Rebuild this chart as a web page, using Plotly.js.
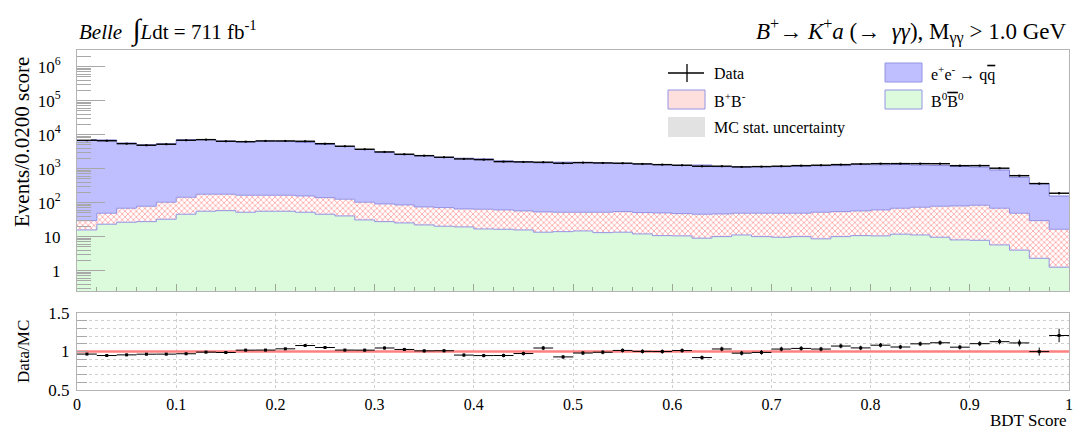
<!DOCTYPE html>
<html>
<head>
<meta charset="utf-8">
<script src="https://cdn.plot.ly/plotly-3.0.1.min.js"></script>
<style>
  html, body { margin: 0; padding: 0; background: #ffffff; }
  #plot { width: 1073px; height: 429px; }
</style>
</head>
<body>
<div id="plot"></div>
<script>
// BDT score histogram, 50 bins of width 0.02 on [0, 1]
const binWidth = 0.02;
const nBins = 50;
const binCenters = Array.from({ length: nBins }, (_, i) => +(binWidth * (i + 0.5)).toFixed(3));
const binEdges = Array.from({ length: nBins + 1 }, (_, i) => +(binWidth * i).toFixed(3));

// Observed events per bin
const dataCounts = [
  6843, 6618, 5427, 4876, 5219, 6845, 7128, 6392, 6217, 6534,
  6528, 6387, 5431, 4562, 3718, 3104, 2651, 2409, 2163, 1931,
  1838, 1607, 1573, 1545, 1441, 1502, 1469, 1444, 1376, 1311,
  1258, 1176, 1179, 1121, 1146, 1178, 1226, 1260, 1313, 1372,
  1401, 1405, 1402, 1398, 1224, 1227, 1029, 621, 363, 189
];

// Continuum e+e- -> qqbar (MC)
const qqbarMC = [
  7052, 6934, 5606, 4974, 5301, 6908, 7011, 6297, 5945, 6250,
  6144, 5771, 5022, 4353, 3551, 2877, 2497, 2314, 2070, 1960,
  1877, 1634, 1559, 1425, 1498, 1480, 1431, 1370, 1323, 1262,
  1195, 1231, 1095, 1097, 1111, 1093, 1130, 1169, 1172, 1254,
  1234, 1259, 1202, 1177, 1079, 1030, 844, 510, 334, 140
];

// Charged B+B- (MC)
const chargedBBMC = [
  13.8, 25.6, 41.9, 50.8, 70.5, 98.4, 121.2, 118.8, 112.8, 109.2,
  109.2, 104.8, 94.4, 85.4, 72.0, 64.0, 60.2, 52.6, 51.1, 46.0,
  47.2, 44.5, 41.3, 39.8, 38.2, 37.5, 39.1, 40.9, 38.8, 39.1,
  37.0, 36.6, 36.5, 37.6, 38.8, 39.2, 38.8, 43.6, 44.4, 46.3,
  50.5, 56.6, 62.0, 68.8, 72.0, 76.1, 62.7, 44.8, 27.2, 15.2
];

// Neutral B0 B0bar (MC)
const neutralBBMC = [
  15.7, 23.2, 26.5, 27.6, 32.5, 45.6, 55.8, 58.2, 52.2, 55.8,
  55.8, 52.2, 45.6, 40.6, 31.0, 27.6, 25.3, 22.1, 20.2, 19.3,
  16.8, 16.5, 15.7, 13.5, 14.0, 14.7, 13.1, 13.5, 12.0, 10.7,
  10.5, 9.0, 10.0, 11.2, 10.0, 9.6, 10.0, 8.6, 10.0, 10.7,
  10.5, 11.8, 11.2, 9.6, 8.0, 7.8, 5.7, 4.0, 2.3, 1.26
];

// MC statistical uncertainty on the total prediction
const mcStatErr = [
  105, 104, 85, 76, 81, 106, 108, 97, 92, 96,
  95, 89, 77, 67, 55, 45, 39, 36, 32, 30,
  29, 25, 24, 22, 23, 23, 22, 21, 20, 19,
  19, 19, 17, 17, 17, 17, 18, 18, 18, 20,
  19, 20, 19, 19, 17, 17, 14, 9, 6, 3
];

// Axis tick labels
const upperTickVals = [1, 10, 100, 1e3, 1e4, 1e5, 1e6];
const upperTickText = ['1', '10', '10<sup>2</sup>', '10<sup>3</sup>', '10<sup>4</sup>', '10<sup>5</sup>', '10<sup>6</sup>'];
const ratioTickVals = [0.5, 1.0, 1.5];
const ratioTickText = ['0.5', '1', '1.5'];
const xTickVals = [0, 0.1, 0.2, 0.3, 0.4, 0.5, 0.6, 0.7, 0.8, 0.9, 1];
const xTickText = ['0', '0.1', '0.2', '0.3', '0.4', '0.5', '0.6', '0.7', '0.8', '0.9', '1'];

// Derived stack levels
const neutralTop = neutralBBMC.slice();
const chargedTop = neutralBBMC.map((v, i) => v + chargedBBMC[i]);
const mcTotal = chargedTop.map((v, i) => v + qqbarMC[i]);
const ratio = dataCounts.map((d, i) => d / mcTotal[i]);
const ratioErr = dataCounts.map((d, i) => Math.sqrt(d) / mcTotal[i]);
const dataErr = dataCounts.map(d => Math.sqrt(d));
const stepY = arr => arr.concat([arr[arr.length - 1]]);

// Layout geometry helpers (pixel -> paper)
const L = 77, R = 4, T = 50, B = 39, W = 1073, H = 429;
const PW = W - L - R, PH = H - T - B;
const px = x => (x - L) / PW;
const py = y => (H - B - y) / PH;

const FONT = 'Liberation Serif, Times New Roman, serif';
const stepColor = '#9494e4';

const traces = [
  {
    type: 'bar', x: binCenters, y: neutralBBMC, width: binWidth,
    xaxis: 'x', yaxis: 'y',
    marker: { color: '#dcfbdc', line: { width: 0 } },
    hoverinfo: 'skip'
  },
  {
    type: 'bar', x: binCenters, y: chargedBBMC, base: neutralTop, width: binWidth,
    xaxis: 'x', yaxis: 'y',
    marker: {
      color: '#ffffff', line: { width: 0 },
      pattern: { shape: 'x', fgcolor: '#ff8a8a', bgcolor: '#ffffff', size: 4, solidity: 0.3 }
    },
    hoverinfo: 'skip'
  },
  {
    type: 'bar', x: binCenters, y: qqbarMC, base: chargedTop, width: binWidth,
    xaxis: 'x', yaxis: 'y',
    marker: { color: '#bfbfff', line: { width: 0 } },
    hoverinfo: 'skip'
  },
  {
    type: 'bar', x: binCenters, y: mcStatErr.map(e => 2 * e),
    base: mcTotal.map((m, i) => m - mcStatErr[i]), width: binWidth,
    xaxis: 'x', yaxis: 'y',
    marker: {
      color: 'rgba(0,0,0,0)', line: { width: 0 },
      pattern: { shape: 'x', fgcolor: '#8a8a8a', bgcolor: 'rgba(255,255,255,0)', size: 3, solidity: 0.4 }
    },
    hoverinfo: 'skip'
  },
  {
    type: 'scatter', mode: 'lines', x: binEdges, y: stepY(neutralTop),
    xaxis: 'x', yaxis: 'y',
    line: { shape: 'hv', color: stepColor, width: 1 }, hoverinfo: 'skip'
  },
  {
    type: 'scatter', mode: 'lines', x: binEdges, y: stepY(chargedTop),
    xaxis: 'x', yaxis: 'y',
    line: { shape: 'hv', color: stepColor, width: 1 }, hoverinfo: 'skip'
  },
  {
    type: 'scatter', mode: 'lines', x: binEdges, y: stepY(mcTotal),
    xaxis: 'x', yaxis: 'y',
    line: { shape: 'hv', color: '#8080d8', width: 1 }, hoverinfo: 'skip'
  },
  {
    type: 'scatter', mode: 'markers', x: binCenters, y: dataCounts,
    xaxis: 'x', yaxis: 'y',
    marker: { color: '#000000', size: 2, symbol: 'square' },
    error_x: { type: 'constant', value: binWidth / 2, width: 0, thickness: 1.4, color: '#000000' },
    error_y: { type: 'data', array: dataErr, width: 0, thickness: 1, color: '#000000' },
    hoverinfo: 'skip'
  },
  {
    type: 'scatter', mode: 'markers', x: binCenters, y: ratio,
    xaxis: 'x2', yaxis: 'y2',
    marker: { color: '#000000', size: 3, symbol: 'square' },
    error_x: { type: 'constant', value: binWidth / 2, width: 0, thickness: 1, color: '#000000' },
    error_y: { type: 'data', array: ratioErr, width: 0, thickness: 1, color: '#000000' },
    hoverinfo: 'skip'
  }
];

const frameColor = '#b4b4b4';
const tickGray = '#a8a8a8';

// Legend drawn as swatches + labels
const legendShapes = [
  { type: 'line', xref: 'paper', yref: 'paper', x0: px(668), x1: px(704), y0: py(73), y1: py(73), line: { color: '#000', width: 1.3 } },
  { type: 'line', xref: 'paper', yref: 'paper', x0: px(687), x1: px(687), y0: py(64), y1: py(82), line: { color: '#000', width: 1.3 } },
  { type: 'rect', xref: 'paper', yref: 'paper', x0: px(668), x1: px(705), y0: py(109), y1: py(90), fillcolor: '#ffdede', line: { color: stepColor, width: 1 } },
  { type: 'rect', xref: 'paper', yref: 'paper', x0: px(668), x1: px(705), y0: py(137), y1: py(117), fillcolor: '#e2e2e2', line: { width: 0 } },
  { type: 'rect', xref: 'paper', yref: 'paper', x0: px(885), x1: px(922), y0: py(82), y1: py(63), fillcolor: '#bfbfff', line: { color: stepColor, width: 1 } },
  { type: 'rect', xref: 'paper', yref: 'paper', x0: px(885), x1: px(922), y0: py(109), y1: py(90), fillcolor: '#dcfbdc', line: { color: stepColor, width: 1 } }
];

const legendLabel = (text, x, y) => ({
  text, xref: 'paper', yref: 'paper', x: px(x), y: py(y),
  xanchor: 'left', yanchor: 'middle', showarrow: false,
  font: { family: FONT, size: 16, color: '#000' }
});

const annotations = [
  legendLabel('Data', 712, 74),
  legendLabel('B<sup>+</sup>B<sup>-</sup>', 712, 100),
  legendLabel('MC stat. uncertainty', 712, 128),
  legendLabel('e<sup>+</sup>e<sup>-</sup> \u2192 q<span style="text-decoration:overline">q</span>', 929, 74),
  legendLabel('B<sup>0</sup><span style="text-decoration:overline">B</span><sup>0</sup>', 929, 100),
  {
    text: '<i>Belle</i>  <span style="font-size:29px">\u222B</span><i>L</i>dt = 711 fb<sup>-1</sup>',
    xref: 'paper', yref: 'paper', x: px(77), y: py(30), xanchor: 'left', yanchor: 'middle',
    showarrow: false, font: { family: FONT, size: 21, color: '#000' }
  },
  {
    text: '<i>B</i><sup>+</sup>\u2192 <i>K</i><sup>+</sup><i>a</i> (\u2192  <i>\u03B3\u03B3</i>), M<sub>\u03B3\u03B3</sub> > 1.0 GeV',
    xref: 'paper', yref: 'paper', x: px(1069), y: py(31), xanchor: 'right', yanchor: 'middle',
    showarrow: false, font: { family: FONT, size: 23, color: '#000' }
  },
  {
    text: 'Events/0.0200 score', textangle: -90,
    xref: 'paper', yref: 'paper', x: px(22), y: py(142), xanchor: 'center', yanchor: 'middle',
    showarrow: false, font: { family: FONT, size: 21, color: '#000' }
  },
  {
    text: 'Data/MC', textangle: -90,
    xref: 'paper', yref: 'paper', x: px(23), y: py(352), xanchor: 'center', yanchor: 'middle',
    showarrow: false, font: { family: FONT, size: 17, color: '#000' }
  },
  {
    text: 'BDT Score',
    xref: 'paper', yref: 'paper', x: px(1069), y: py(421), xanchor: 'right', yanchor: 'middle',
    showarrow: false, font: { family: FONT, size: 17, color: '#000' }
  }
];

const layout = {
  width: W, height: H,
  margin: { l: L, r: R, t: T, b: B, pad: 0 },
  paper_bgcolor: '#ffffff', plot_bgcolor: '#ffffff',
  font: { family: FONT, color: '#000000' },
  showlegend: false,
  barmode: 'overlay', bargap: 0,
  xaxis: {
    domain: [0, 1], anchor: 'y', range: [0, 1], matches: 'x2',
    showticklabels: false, showgrid: false, zeroline: false,
    showline: true, mirror: true, linecolor: frameColor, linewidth: 1,
    tickmode: 'linear', tick0: 0, dtick: 0.1,
    ticks: 'inside', ticklen: 7, tickcolor: '#9aa89a', tickwidth: 1,
    minor: { ticks: 'inside', ticklen: 4, dtick: 0.02, tick0: 0, tickcolor: '#9aa89a', tickwidth: 1, showgrid: false }
  },
  yaxis: {
    domain: [py(291), 1], anchor: 'x', type: 'log', range: [-0.6, 6.49],
    tickmode: 'array', tickvals: upperTickVals, ticktext: upperTickText,
    tickfont: { family: FONT, size: 17, color: '#000' },
    ticks: 'inside', ticklen: 28, tickcolor: tickGray, tickwidth: 1,
    ticklabelstandoff: 12,
    minor: { ticks: 'inside', ticklen: 14, dtick: 'D1', tickcolor: tickGray, tickwidth: 1, showgrid: false },
    showgrid: false, zeroline: false,
    showline: true, mirror: true, linecolor: frameColor, linewidth: 1
  },
  xaxis2: {
    domain: [0, 1], anchor: 'y2', range: [0, 1],
    tickmode: 'array', tickvals: xTickVals, ticktext: xTickText,
    tickfont: { family: FONT, size: 16, color: '#000' },
    ticks: '', showgrid: true, gridcolor: '#cfcfcf', griddash: 'dot', gridwidth: 1,
    zeroline: false, showline: true, mirror: true, linecolor: frameColor, linewidth: 1
  },
  yaxis2: {
    domain: [0, py(313)], anchor: 'x2', range: [0.5, 1.5],
    tickmode: 'array', tickvals: ratioTickVals, ticktext: ratioTickText,
    tickfont: { family: FONT, size: 17, color: '#000' },
    ticks: 'inside', ticklen: 10, tickcolor: tickGray, tickwidth: 1,
    ticklabelstandoff: 3,
    minor: { ticks: 'inside', ticklen: 10, tickmode: 'linear', tick0: 0.5, dtick: 0.1, tickcolor: tickGray, tickwidth: 1,
             showgrid: true, gridcolor: '#cfcfcf', griddash: 'dot', gridwidth: 1 },
    showgrid: true, gridcolor: '#cfcfcf', griddash: 'dot', gridwidth: 1,
    zeroline: false, showline: true, mirror: true, linecolor: frameColor, linewidth: 1
  },
  // fine tick comb along the ratio axis
  yaxis3: {
    domain: [0, py(313)], anchor: 'x2', overlaying: 'y2', side: 'left', range: [0.5, 1.5],
    tickmode: 'linear', tick0: 0.5, dtick: 0.025, ticks: 'inside', ticklen: 10,
    tickcolor: '#bdbdbd', tickwidth: 1, showticklabels: false,
    showgrid: false, zeroline: false, showline: false
  },
  shapes: [
    {
      type: 'line', xref: 'x2', yref: 'y2', x0: 0, x1: 1, y0: 1, y1: 1,
      layer: 'between', line: { color: '#ff8080', width: 2.5 }
    }
  ].concat(legendShapes),
  annotations
};

Plotly.newPlot('plot', traces, layout, { staticPlot: true, displayModeBar: false });
</script>
</body>
</html>
